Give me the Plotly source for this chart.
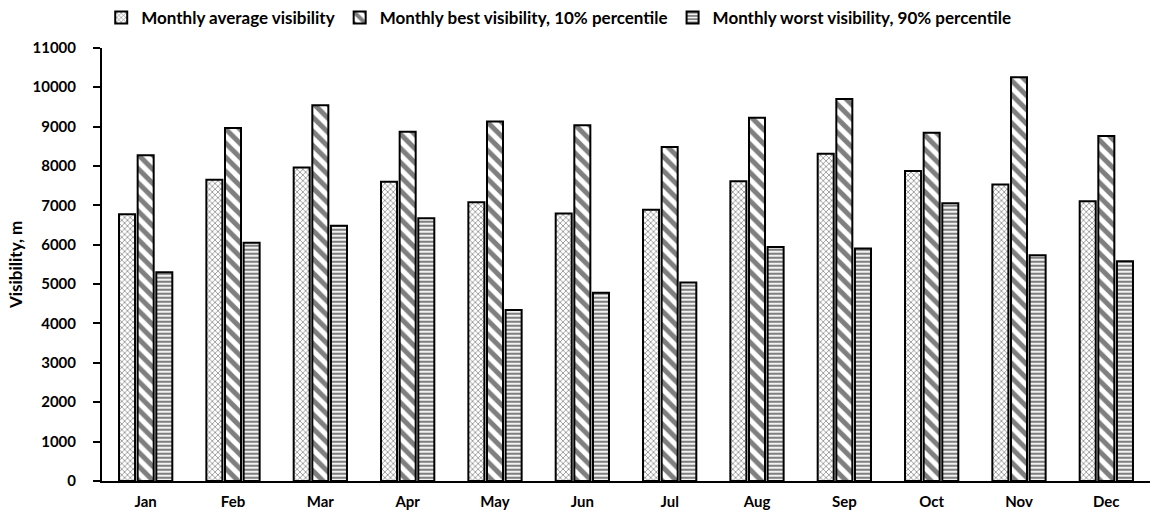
import plotly.graph_objects as go

months = ["Jan", "Feb", "Mar", "Apr", "May", "Jun", "Jul", "Aug", "Sep", "Oct", "Nov", "Dec"]
avg_vis = [6770, 7650, 7960, 7600, 7080, 6790, 6890, 7610, 8310, 7870, 7530, 7100]
best_vis = [8270, 8960, 9540, 8870, 9130, 9030, 8480, 9220, 9700, 8840, 10250, 8760]
worst_vis = [5300, 6050, 6480, 6670, 4340, 4780, 5040, 5940, 5900, 7050, 5730, 5580]
y_ticks = list(range(0, 11001, 1000))
y_ticktext = [str(v) for v in y_ticks]

font_fam = "Lato, Open Sans, sans-serif"

fig = go.Figure()
fig.add_trace(go.Bar(
    x=months, y=avg_vis, name="Monthly average visibility",
    marker=dict(color="white", line=dict(color="black", width=2),
                pattern=dict(shape="x", size=4, solidity=0.35, fgcolor="#111", bgcolor="white")),
))
fig.add_trace(go.Bar(
    x=months, y=best_vis, name="Monthly best visibility, 10% percentile",
    marker=dict(color="white", line=dict(color="black", width=2),
                pattern=dict(shape="\\", size=10, solidity=0.5, fgcolor="black", bgcolor="white")),
))
fig.add_trace(go.Bar(
    x=months, y=worst_vis, name="Monthly worst visibility, 90% percentile",
    marker=dict(color="white", line=dict(color="black", width=2),
                pattern=dict(shape="-", size=4, solidity=0.55, fgcolor="black", bgcolor="white")),
))

fig.update_layout(
    width=1152, height=518,
    margin=dict(l=102, r=2, t=43, b=37),
    paper_bgcolor="white", plot_bgcolor="white",
    barmode="group", bargap=0.36, bargroupgap=0.14,
    font=dict(family=font_fam, size=15, color="black", weight="bold"),
    legend=dict(orientation="h", x=0.485, xanchor="center", xref="container",
                y=1.0, yanchor="top", yref="container",
                font=dict(size=17, weight="bold"), traceorder="normal",
                itemwidth=30, tracegroupgap=0),
    showlegend=True,
)
fig.update_xaxes(showline=True, linecolor="black", linewidth=2, ticks="", showgrid=False,
                 ticklabelstandoff=6, tickfont=dict(size=15, weight="bold"))
fig.update_yaxes(range=[0, 11000], tickvals=y_ticks, ticktext=y_ticktext, showline=True,
                 linecolor="black", linewidth=2, ticks="outside", ticklen=7, tickwidth=1.5,
                 tickcolor="black", showgrid=False, zeroline=False, ticklabelstandoff=14,
                 title=dict(text="Visibility, m", font=dict(size=17, weight="bold"), standoff=6),
                 tickfont=dict(size=15, weight="bold"))

fig.write_html("out.html", config={"displayModeBar": False},
               post_script="document.body.style.margin='0';")
